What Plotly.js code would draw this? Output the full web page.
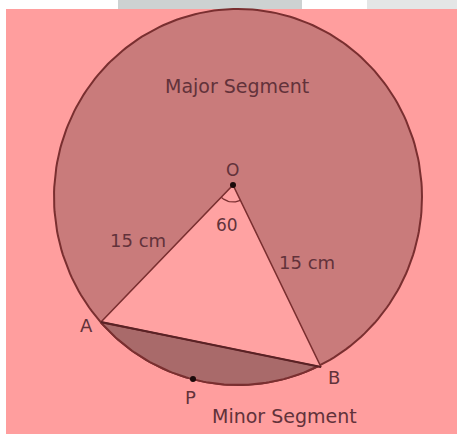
<!DOCTYPE html>
<html>
<head>
<meta charset="utf-8">
<script src="https://cdn.plot.ly/plotly-3.0.1.min.js"></script>
<style>html,body{margin:0;padding:0;background:#fff;}#chart{width:457px;height:435px;}</style>
</head>
<body>
<div id="chart"></div>
<script>
// ---- data (diagram coordinates, y grows downward) ----
const pointNames = ['O', 'A', 'B', 'P'];
const pointX = [233, 101, 321, 193];
const pointY = [185, 322, 367, 379];
const circleCenter = [238, 197];
const circleRadii = [184, 188];
const radiusLabels = ['15 cm', '15 cm'];
const angleLabel = '60';
const segmentLabels = ['Major Segment', 'Minor Segment'];

// ---- styling ----
const bg = '#ff9e9e';
const majorFill = '#c97b7b';
const minorFill = '#a96a6a';
const triFill = '#ffa2a2';
const edge = '#7a2f30';
const txt = '#62323a';

const cx = circleCenter[0], cy = circleCenter[1], rx = circleRadii[0], ry = circleRadii[1];
function arc(a0, a1, n) {
  const xs = [], ys = [];
  for (let i = 0; i <= n; i++) {
    const t = a0 + (a1 - a0) * i / n;
    xs.push(cx + rx * Math.cos(t));
    ys.push(cy + ry * Math.sin(t));
  }
  return [xs, ys];
}
const P = {};
pointNames.forEach((n, i) => P[n] = [pointX[i], pointY[i]]);
const angA = Math.atan2((P.A[1] - cy) / ry, (P.A[0] - cx) / rx);
const angB = Math.atan2((P.B[1] - cy) / ry, (P.B[0] - cx) / rx);

const full = arc(0, 2 * Math.PI, 240);
const minor = arc(angB, angA, 80);

// angle marker around O
const aOA = Math.atan2(P.A[1] - P.O[1], P.A[0] - P.O[0]);
const aOB = Math.atan2(P.B[1] - P.O[1], P.B[0] - P.O[0]);
const mx = [], my = [];
for (let i = 0; i <= 20; i++) {
  const t = aOB + (aOA - aOB) * i / 20;
  mx.push(P.O[0] + 17 * Math.cos(t));
  my.push(P.O[1] + 17 * Math.sin(t));
}

const traces = [
  {x: full[0], y: full[1], mode: 'lines', fill: 'toself', fillcolor: majorFill,
   line: {color: edge, width: 2}, hoverinfo: 'skip'},
  {x: minor[0].concat([minor[0][0]]), y: minor[1].concat([minor[1][0]]), mode: 'lines', fill: 'toself',
   fillcolor: minorFill, line: {color: edge, width: 2}, hoverinfo: 'skip'},
  {x: [P.O[0], P.A[0], P.B[0], P.O[0]], y: [P.O[1], P.A[1], P.B[1], P.O[1]], mode: 'lines',
   fill: 'toself', fillcolor: triFill, line: {color: edge, width: 1.6}, hoverinfo: 'skip'},
  {x: [P.A[0], P.B[0]], y: [P.A[1], P.B[1]], mode: 'lines', line: {color: '#5a2225', width: 2}, hoverinfo: 'skip'},
  {x: mx, y: my, mode: 'lines', line: {color: edge, width: 1.3}, hoverinfo: 'skip'},
  {x: [P.O[0], P.P[0]], y: [P.O[1], P.P[1]], mode: 'markers',
   marker: {color: '#1a0a0a', size: 6}, hoverinfo: 'skip'}
];

const font = (s) => ({family: 'DejaVu Sans', size: s, color: txt});
const ann = (text, x, y, s) => ({text: text, x: x, y: y, xref: 'x', yref: 'y', showarrow: false,
  font: font(s), xanchor: 'center', yanchor: 'middle'});

const annotations = [
  ann(segmentLabels[0], 237, 86, 19),
  ann(segmentLabels[1], 284, 416, 19),
  ann(radiusLabels[0], 138, 240, 18),
  ann(radiusLabels[1], 307, 262, 18),
  ann(angleLabel, 227, 225, 17),
  ann(pointNames[0], P.O[0] - 1, P.O[1] - 15, 17),
  ann(pointNames[1], P.A[0] - 15, P.A[1] + 3, 18),
  ann(pointNames[2], P.B[0] + 13, P.B[1] + 10, 18),
  ann(pointNames[3], P.P[0] - 3, P.P[1] + 18, 18)
];

const layout = {
  width: 457, height: 435,
  margin: {l: 0, r: 0, t: 0, b: 0},
  paper_bgcolor: '#ffffff', plot_bgcolor: '#ffffff',
  showlegend: false,
  xaxis: {range: [0, 457], visible: false, fixedrange: true},
  yaxis: {range: [435, 0], visible: false, fixedrange: true},
  shapes: [
    {type: 'rect', xref: 'x', yref: 'y', x0: 6, x1: 457, y0: 9, y1: 434, fillcolor: bg, line: {width: 0}, layer: 'below'},
    {type: 'rect', xref: 'x', yref: 'y', x0: 118, x1: 302, y0: 0, y1: 9, fillcolor: '#cdd2d2', line: {width: 0}, layer: 'below'},
    {type: 'rect', xref: 'x', yref: 'y', x0: 367, x1: 457, y0: 0, y1: 9, fillcolor: '#e4e6e6', line: {width: 0}, layer: 'below'}
  ],
  annotations: annotations
};

Plotly.newPlot('chart', traces, layout, {staticPlot: true, displayModeBar: false});
</script>
</body>
</html>
